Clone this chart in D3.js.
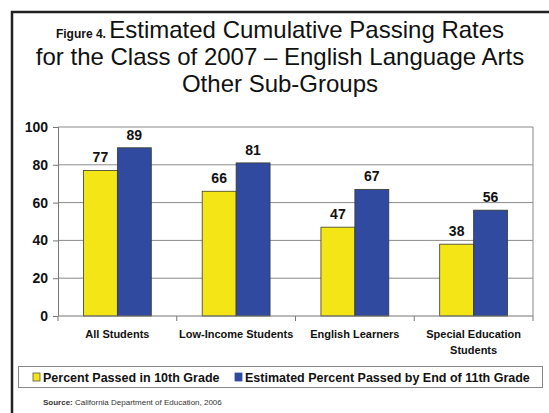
<!DOCTYPE html>
<html>
<head>
<meta charset="utf-8">
<script src="https://cdn.jsdelivr.net/npm/d3@7"></script>
<style>
  body { margin: 0; background: #fff; }
  svg { display: block; font-family: "Liberation Sans", Arial, sans-serif; }
  .grid line { stroke: #8a8a8a; stroke-width: 1; }
  .axis path, .axis line { stroke: #777; }
  .axis text { font-weight: bold; fill: #111; }
</style>
</head>
<body>
<div id="chart"></div>
<script>
const width = 549,
      height = 413,
      margin = {top: 127, right: 16, bottom: 97, left: 58};

const chartWidth = width - margin.left - margin.right,
      chartHeight = height - margin.top - margin.bottom;

const categories = [
    ['All Students'],
    ['Low-Income Students'],
    ['English Learners'],
    ['Special Education', 'Students']
];
const seriesNames = ['Percent Passed in 10th Grade', 'Estimated Percent Passed by End of 11th Grade'];
const passed10th = [77, 66, 47, 38];
const passed11th = [89, 81, 67, 56];
const yTicks = [0, 20, 40, 60, 80, 100];
const colors = ['#f4e616', '#2f4a9f'];

const svg = d3.select('#chart').append('svg')
    .attr('width', width)
    .attr('height', height);

// frame (top + left only)
svg.append('path')
    .attr('d', 'M12,' + height + 'V12H' + width)
    .attr('fill', 'none')
    .attr('stroke', '#222')
    .attr('stroke-width', 2.5);

// title
const title = svg.append('text')
    .attr('text-anchor', 'middle')
    .attr('fill', '#111');
title.append('tspan').attr('x', 280).attr('y', 38)
    .call(t => {
        t.append('tspan').attr('font-size', 12).attr('font-weight', 'bold').text('Figure 4. ');
        t.append('tspan').attr('font-size', 24).text('Estimated Cumulative Passing Rates');
    });
title.append('tspan').attr('x', 280).attr('y', 65).attr('font-size', 24)
    .text('for the Class of 2007 \u2013 English Language Arts');
title.append('tspan').attr('x', 280).attr('y', 92).attr('font-size', 24)
    .text('Other Sub-Groups');

const chart = svg.append('g')
    .attr('transform', `translate(${margin.left}, ${margin.top})`);

const x0 = d3.scaleBand()
    .domain(d3.range(categories.length))
    .range([0, chartWidth]);

const x1 = d3.scaleBand()
    .domain([0, 1])
    .range([0, x0.bandwidth()])
    .paddingOuter(0.75)
    .paddingInner(0);

const y = d3.scaleLinear()
    .domain([0, 100])
    .range([chartHeight, 0]);

// gridlines
chart.append('g')
    .attr('class', 'grid')
    .selectAll('line')
    .data(yTicks.slice(1))
    .enter().append('line')
    .attr('x1', 0)
    .attr('x2', chartWidth)
    .attr('y1', d => y(d))
    .attr('y2', d => y(d));

chart.append('line')
    .attr('x1', chartWidth).attr('x2', chartWidth)
    .attr('y1', 0).attr('y2', chartHeight)
    .attr('stroke', '#8a8a8a');

// bars
const data = [passed10th, passed11th];
data.forEach((vals, s) => {
    chart.append('g')
        .selectAll('rect')
        .data(vals)
        .enter().append('rect')
        .attr('x', (d, i) => x0(i) + x1(s))
        .attr('y', d => y(d))
        .attr('width', x1.bandwidth())
        .attr('height', d => chartHeight - y(d))
        .attr('fill', colors[s])
        .attr('stroke', '#3a3a2a')
        .attr('stroke-width', 0.8);

    chart.append('g')
        .selectAll('text')
        .data(vals)
        .enter().append('text')
        .attr('x', (d, i) => x0(i) + x1(s) + x1.bandwidth() / 2)
        .attr('y', d => y(d) - 8)
        .attr('text-anchor', 'middle')
        .attr('font-size', 14)
        .attr('font-weight', 'bold')
        .attr('fill', '#111')
        .text(d => d);
});

// y axis
const yAxis = d3.axisLeft(y)
    .tickValues(yTicks)
    .tickSize(5)
    .tickPadding(5);

chart.append('g')
    .attr('class', 'axis')
    .call(yAxis)
    .call(g => g.select('.domain').attr('d', `M-5,0.5H0.5V${chartHeight}`))
    .selectAll('text')
    .attr('font-size', 14)
    .attr('font-family', '"Liberation Sans", Arial, sans-serif');

// x axis with category ticks between groups
const xTicks = d3.range(categories.length + 1).map(i => i * x0.step());
chart.append('g')
    .attr('transform', `translate(0, ${chartHeight})`)
    .call(g => {
        g.append('line').attr('x1', 0).attr('x2', chartWidth)
            .attr('stroke', '#777');
        g.selectAll('.tk').data(xTicks).enter().append('line')
            .attr('class', 'tk')
            .attr('x1', d => d).attr('x2', d => d)
            .attr('y1', 0).attr('y2', 5)
            .attr('stroke', '#777');
    });

const catLabels = chart.append('g')
    .selectAll('text')
    .data(categories)
    .enter().append('text')
    .attr('text-anchor', 'middle')
    .attr('font-size', 11)
    .attr('font-weight', 'bold')
    .attr('fill', '#111');
catLabels.each(function(lines, i) {
    const t = d3.select(this);
    lines.forEach((ln, j) => {
        t.append('tspan')
            .attr('x', x0(i) + x0.bandwidth() / 2)
            .attr('y', chartHeight + 22 + j * 16)
            .text(ln);
    });
});

// legend
const legend = svg.append('g');
legend.append('rect')
    .attr('x', 18.5).attr('y', 366.5)
    .attr('width', 524).attr('height', 21)
    .attr('fill', '#fff')
    .attr('stroke', '#888');

const legendX = [33, 235];
seriesNames.forEach((name, s) => {
    legend.append('rect')
        .attr('x', legendX[s]).attr('y', 373)
        .attr('width', 7).attr('height', 8)
        .attr('fill', colors[s])
        .attr('stroke', s === 0 ? '#555' : colors[s])
        .attr('stroke-width', 0.8);
    legend.append('text')
        .attr('x', legendX[s] + 10).attr('y', 382)
        .attr('font-size', 12.5)
        .attr('font-weight', 'bold')
        .attr('fill', '#111')
        .text(name);
});

// source
const src = svg.append('text')
    .attr('x', 43).attr('y', 405)
    .attr('font-size', 8)
    .attr('fill', '#333');
src.append('tspan').attr('font-weight', 'bold').text('Source: ');
src.append('tspan').text('California Department of Education, 2006');
</script>
</body>
</html>
